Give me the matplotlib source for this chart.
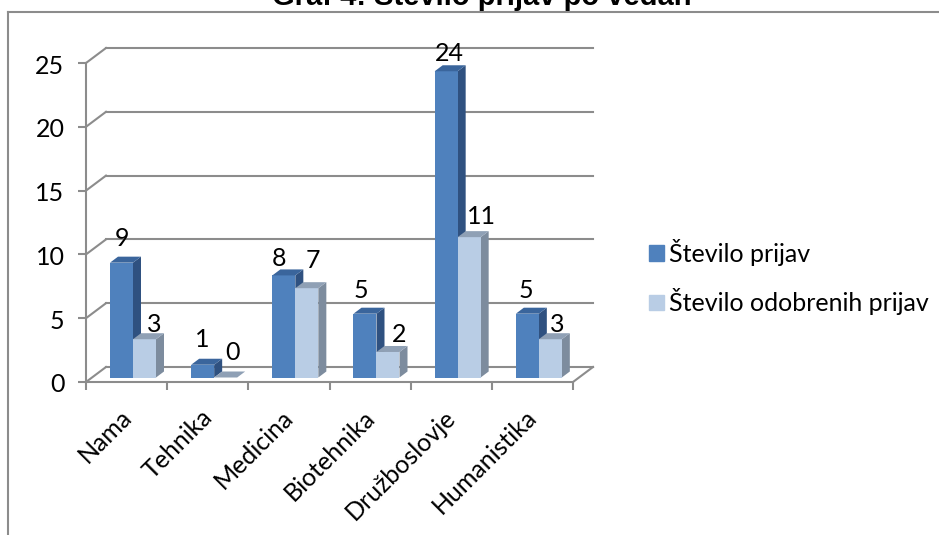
import numpy as np
import matplotlib.pyplot as plt
from matplotlib.patches import Patch
from matplotlib.transforms import ScaledTranslation

plt.rcParams['font.family'] = ['Lato', 'DejaVu Sans']

# data
categories = ['Nama', 'Tehnika', 'Medicina', 'Biotehnika', 'Družboslovje', 'Humanistika']
prijave = [9, 1, 8, 5, 24, 5]
odobrene = [3, 0, 7, 2, 11, 3]

# label nudges in pixels, the original places them unevenly
prijave_dx = [0, 0, -5, -4, 3, -1]
prijave_dy = [18, 19, 11, 17, 12, 17]
odobrene_dx = [10, 7, 6, 11, 12, 7]
odobrene_dy = [9, 19, 22, 11, 15, 9]

BLUE = ('#4F81BD', '#3A659C', '#2F5180')
LIGHT = ('#B9CDE5', '#8FA0B5', '#7D8C9E')
GREY = '#8C8C8C'
W, H = 939, 535
FS = 18

fig = plt.figure(figsize=(W / 100, H / 100), dpi=100)
ax = fig.add_axes([86 / W, (H - 382) / H, 487 / W, 319 / H])
ax.set_xlim(0, 6)
ax.set_ylim(0, 25)
ax.patch.set_visible(False)

# px to data units
ux = 487 / 6
uy = 319 / 25
wall_x, wall_y = 20 / ux, 15 / uy
bar_dx, bar_dy = 8 / ux, 6 / uy
base = 4.5 / uy
bar_w = 23 / ux
start = 24 / ux

# back wall
for v in range(0, 30, 5):
    ax.plot([wall_x, 6 + wall_x], [v + wall_y, v + wall_y], color=GREY, lw=1.5, clip_on=False, zorder=1)
    ax.plot([0, wall_x], [v, v + wall_y], color=GREY, lw=1.5, clip_on=False, zorder=1)
ax.plot([6, 6 + wall_x], [0, wall_y], color=GREY, lw=1.5, clip_on=False, zorder=1)


def draw_bars(values, x0, colors, dxs, dys):
    for i, v in enumerate(values):
        x = i + x0
        top = base + v
        if v > 0:
            ax.bar(x, v, bar_w, bottom=base, align='edge', color=colors[0], clip_on=False, zorder=3)
        ax.fill([x, x + bar_w, x + bar_w + bar_dx, x + bar_dx], [top, top, top + bar_dy, top + bar_dy],
                color=colors[1], lw=0, clip_on=False, zorder=3)
        ax.fill([x + bar_w, x + bar_w + bar_dx, x + bar_w + bar_dx, x + bar_w],
                [base, base + bar_dy, top + bar_dy, top], color=colors[2], lw=0, clip_on=False, zorder=2.9)
        ax.annotate(str(v), (x + bar_w / 2, top + bar_dy), xytext=(dxs[i], dys[i]), textcoords='offset pixels',
                    ha='center', va='center', fontsize=FS, color='black', zorder=5, annotation_clip=False)


draw_bars(prijave, start, BLUE, prijave_dx, prijave_dy)
draw_bars(odobrene, start + bar_w, LIGHT, odobrene_dx, odobrene_dy)

# axes
for s in ['top', 'right']:
    ax.spines[s].set_visible(False)
for s in ['left', 'bottom']:
    ax.spines[s].set_color(GREY)
    ax.spines[s].set_linewidth(1.5)
    ax.spines[s].set_zorder(4)
ax.set_yticks(range(0, 30, 5))
ax.set_xticks(range(7))
ax.set_xticklabels([])
ax.set_xticks(np.arange(6) + 0.41, minor=True)
ax.set_xticklabels(categories, minor=True, rotation=45, ha='right', rotation_mode='anchor', fontsize=FS)
ax.tick_params(axis='x', which='major', length=5.5, width=1.5, color=GREY)
ax.tick_params(axis='x', which='minor', length=0, pad=17)
ax.tick_params(axis='y', length=5.5, width=1.5, color=GREY, labelsize=FS, pad=10)
for lab in ax.get_yticklabels():
    lab.set_transform(lab.get_transform() + ScaledTranslation(0, -1 / 100, fig.dpi_scale_trans))

# outer frame, only left and top are inside the crop
fig.add_artist(plt.Line2D([8 / W, 8 / W], [0, 1 - 12 / H], color=GREY, lw=1.5))
fig.add_artist(plt.Line2D([8 / W, 1], [1 - 12 / H, 1 - 12 / H], color=GREY, lw=1.5))

fig.text(482 / W, 1 - 5 / H, 'Graf 4: Število prijav po vedah', family='Liberation Sans', fontweight='bold',
         fontsize=21, ha='center', va='baseline')

handles = [Patch(color=BLUE[0], label='Število prijav'), Patch(color=LIGHT[0], label='Število odobrenih prijav')]
fig.legend(handles=handles, loc='center left', bbox_to_anchor=(629 / W, 1 - 277 / H), frameon=False, fontsize=FS,
           handlelength=0.6, handleheight=0.6, handletextpad=0.2, labelspacing=0.9, borderpad=0.3)

fig.savefig('out.png', dpi=100)
